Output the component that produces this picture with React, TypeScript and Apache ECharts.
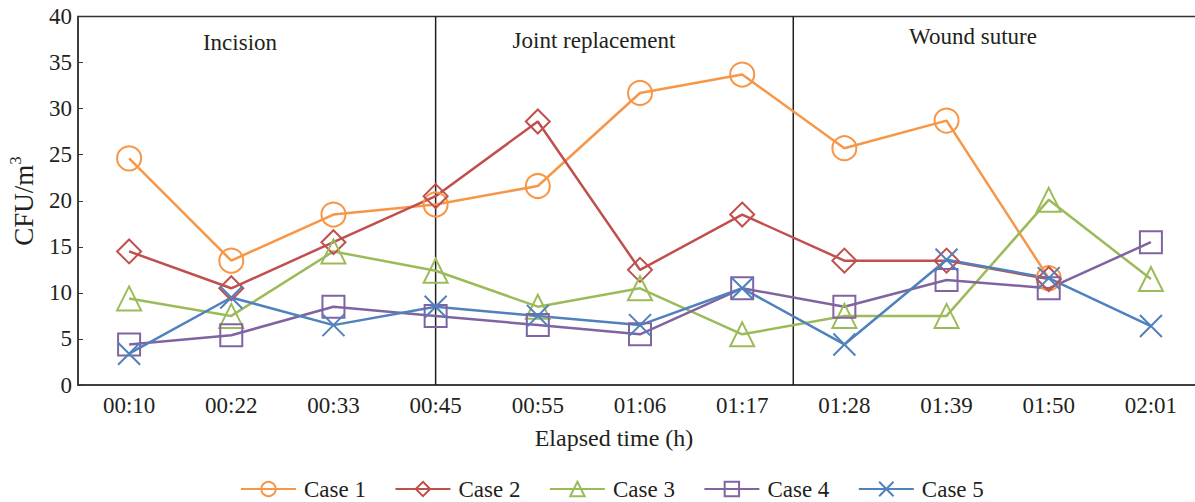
import React, { useEffect, useRef } from "react";
import * as echarts from "echarts";

const categories = ["00:10", "00:22", "00:33", "00:45", "00:55", "01:06", "01:17", "01:28", "01:39", "01:50", "02:01"];
const case1 = [24.6, 13.5, 18.5, 19.6, 21.6, 31.7, 33.7, 25.7, 28.7, 11.6, null];
const case2 = [14.5, 10.5, 15.5, 20.5, 28.6, 12.5, 18.5, 13.5, 13.5, 11.5, null];
const case3 = [9.4, 7.5, 14.5, 12.4, 8.5, 10.5, 5.5, 7.5, 7.5, 20.1, 11.5];
const case4 = [4.4, 5.4, 8.5, 7.5, 6.5, 5.5, 10.5, 8.5, 11.4, 10.5, 15.5];
const case5 = [3.4, 9.5, 6.5, 8.5, 7.5, 6.5, 10.5, 4.4, 13.6, 11.6, 6.4];
const seriesNames = ["Case 1", "Case 2", "Case 3", "Case 4", "Case 5"];
const phaseDividers = [3, 6.5];
const phaseLabels = ["Incision", "Joint replacement", "Wound suture"];
const yTicks = { min: 0, max: 40, interval: 5 };

const FONT = "'Liberation Serif', 'Times New Roman', serif";
const TXT = "#231f20";

export default function App() {
  const ref = useRef<HTMLDivElement>(null);
  useEffect(() => {
    if (!ref.current) return;
    const chart = echarts.init(ref.current, null, { renderer: "svg" });
    const colors = ["#F79646", "#C0504D", "#9BBB59", "#8064A2", "#4F81BD"];
    const symbols = ["circle", "diamond", "triangle", "rect", "path://M0,0L10,10M10,0L0,10"];
    const sizes = [24, 24, 24, 22, 22];
    const datas = [case1, case2, case3, case4, case5];
    const lineSeries = datas.map((d, i) => ({
      name: seriesNames[i],
      type: "line",
      data: d,
      symbol: symbols[i],
      symbolSize: sizes[i],
      showAllSymbol: true,
      connectNulls: false,
      lineStyle: { color: colors[i], width: 2.5 },
      itemStyle: { color: "rgba(255,255,255,0)", borderColor: colors[i], borderWidth: 2 },
      z: 3,
    }));
    const dividerSeries = phaseDividers.map((x) => ({
      type: "line",
      xAxisIndex: 1,
      data: [[x, yTicks.min], [x, yTicks.max]],
      symbol: "none",
      silent: true,
      lineStyle: { color: "#231f20", width: 1.5 },
      z: 2,
    }));
    chart.setOption({
      animation: false,
      grid: {
        left: 78,
        right: 0,
        top: 16.5,
        bottom: 117,
        show: true,
        borderColor: "#333",
        borderWidth: 1.5,
      },
      xAxis: [
        {
          type: "category",
          data: categories,
          boundaryGap: true,
          axisLine: { onZero: false, lineStyle: { color: "#333", width: 1.5 } },
          axisTick: { inside: true, length: 6, alignWithLabel: true, lineStyle: { color: "#333" } },
          axisLabel: { fontFamily: FONT, fontSize: 23, color: TXT, margin: 9 },
          splitLine: { show: false },
        },
        {
          type: "value",
          min: -0.5,
          max: 10.5,
          show: false,
          splitLine: { show: false },
        },
      ],
      yAxis: {
        type: "value",
        min: yTicks.min,
        max: yTicks.max,
        interval: yTicks.interval,
        axisLine: { show: true, onZero: false, lineStyle: { color: "#333", width: 1.5 } },
        axisTick: { show: true, inside: true, length: 5, lineStyle: { color: "#333" } },
        axisLabel: { fontFamily: FONT, fontSize: 23, color: TXT, margin: 6 },
        splitLine: { show: false },
      },
      legend: {
        data: seriesNames,
        left: 240,
        top: 477,
        padding: 0,
        itemWidth: 55,
        itemHeight: 18,
        itemGap: 28.5,
        textStyle: { fontFamily: FONT, fontSize: 23, lineHeight: 24, color: TXT, padding: [0, 0, 0, 3] },
      },
      graphic: [
        {
          type: "text",
          x: 240,
          y: 42,
          style: { text: phaseLabels[0], font: `23px ${FONT}`, fill: TXT, textAlign: "center", textVerticalAlign: "middle" },
        },
        {
          type: "text",
          x: 594,
          y: 40,
          style: { text: phaseLabels[1], font: `23px ${FONT}`, fill: TXT, textAlign: "center", textVerticalAlign: "middle" },
        },
        {
          type: "text",
          x: 973,
          y: 36,
          style: { text: phaseLabels[2], font: `23px ${FONT}`, fill: TXT, textAlign: "center", textVerticalAlign: "middle" },
        },
        {
          type: "text",
          x: 614,
          y: 438,
          style: { text: "Elapsed time (h)", font: `24px ${FONT}`, fill: TXT, textAlign: "center", textVerticalAlign: "middle" },
        },
        {
          type: "text",
          x: 22,
          y: 201,
          rotation: Math.PI / 2,
          style: {
            text: "{a|CFU/m}{b|3}",
            textAlign: "center",
            textVerticalAlign: "middle",
            rich: {
              a: { fontFamily: FONT, fontSize: 27, lineHeight: 30, fill: TXT, color: TXT, verticalAlign: "bottom" },
              b: { fontFamily: FONT, fontSize: 17, lineHeight: 30, fill: TXT, color: TXT, verticalAlign: "top" },
            },
          },
        },
      ],
      series: [...dividerSeries, ...lineSeries],
    });
    return () => chart.dispose();
  }, []);
  return (
    <div style={{ position: "fixed", left: 0, top: 0, width: 1195, height: 502, overflow: "hidden", background: "#fff" }}>
      <div ref={ref} style={{ width: 1202, height: 502 }} />
    </div>
  );
}
